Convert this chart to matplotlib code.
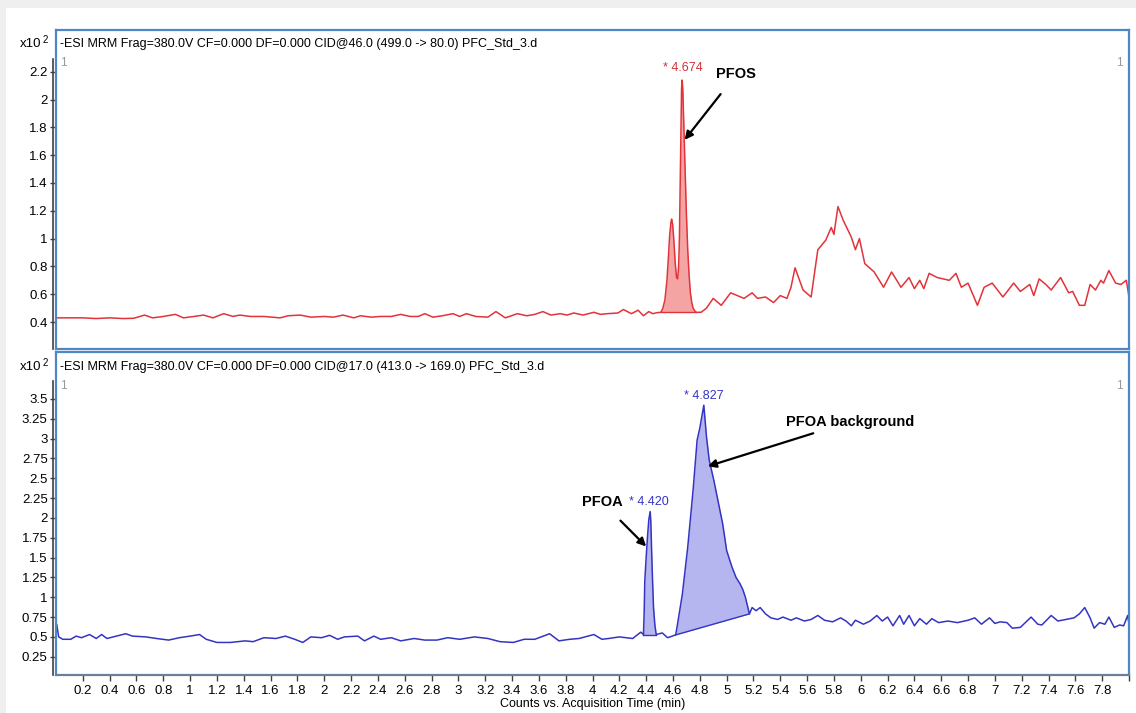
import numpy as np
import matplotlib.pyplot as plt
from matplotlib.patches import Rectangle

plt.rcParams['font.family'] = ['Liberation Sans', 'DejaVu Sans']

# PFOS trace (499.0 -> 80.0), counts x10^2
t_pfos = [0.00, 0.10, 0.20, 0.30, 0.40, 0.50, 0.58, 0.66, 0.72, 0.80, 0.89, 0.95, 1.03, 1.10,
          1.17, 1.25, 1.32, 1.37, 1.45, 1.55, 1.67, 1.73, 1.82, 1.90, 2.00, 2.07, 2.14, 2.22,
          2.27, 2.35, 2.42, 2.50, 2.57, 2.64, 2.70, 2.75, 2.81, 2.88, 2.96, 3.01, 3.06, 3.13,
          3.22, 3.28, 3.35, 3.44, 3.51, 3.57, 3.63, 3.69, 3.76, 3.81, 3.86, 3.93, 4.01, 4.06,
          4.11, 4.19, 4.23, 4.29, 4.34, 4.38, 4.42, 4.45, 4.48,
          4.51, 4.525, 4.54, 4.555, 4.565, 4.575, 4.585, 4.59, 4.598, 4.607, 4.617, 4.627, 4.635,
          4.642, 4.648, 4.654, 4.66, 4.664, 4.668, 4.673, 4.68, 4.687, 4.694, 4.70, 4.71, 4.72,
          4.73, 4.74, 4.75, 4.77,
          4.81, 4.85, 4.90, 4.96, 5.03, 5.08, 5.13, 5.19, 5.23, 5.29, 5.35, 5.40, 5.45, 5.48,
          5.51, 5.57, 5.63, 5.68, 5.74, 5.78, 5.80, 5.83, 5.87, 5.93, 5.96, 5.99, 6.03, 6.10,
          6.17, 6.23, 6.30, 6.36, 6.40, 6.44, 6.47, 6.51, 6.57, 6.66, 6.71, 6.75, 6.80, 6.87,
          6.92, 6.98, 7.06, 7.14, 7.19, 7.26, 7.29, 7.33, 7.38, 7.42, 7.49, 7.55, 7.58, 7.63,
          7.67, 7.71, 7.75, 7.79, 7.81, 7.85, 7.90, 7.94, 7.98, 8.00]
i_pfos = [0.43, 0.43, 0.43, 0.425, 0.43, 0.425, 0.427, 0.45, 0.43, 0.44, 0.455, 0.43, 0.44, 0.45,
          0.43, 0.46, 0.44, 0.45, 0.44, 0.44, 0.43, 0.445, 0.45, 0.435, 0.44, 0.435, 0.45, 0.43,
          0.445, 0.435, 0.44, 0.44, 0.455, 0.44, 0.44, 0.46, 0.435, 0.445, 0.46, 0.44, 0.46, 0.44,
          0.435, 0.475, 0.43, 0.46, 0.445, 0.455, 0.475, 0.45, 0.46, 0.45, 0.465, 0.45, 0.47, 0.455,
          0.46, 0.465, 0.49, 0.46, 0.485, 0.445, 0.475, 0.46, 0.467,
          0.47, 0.50, 0.56, 0.70, 0.85, 1.02, 1.12, 1.14, 1.10, 0.98, 0.82, 0.72, 0.71,
          0.80, 1.00, 1.40, 1.85, 2.08, 2.14, 2.08, 1.85, 1.60, 1.40, 1.18, 0.92, 0.74,
          0.61, 0.54, 0.50, 0.47,
          0.47, 0.50, 0.57, 0.52, 0.61, 0.59, 0.57, 0.61, 0.57, 0.58, 0.54, 0.59, 0.57, 0.65,
          0.79, 0.63, 0.58, 0.92, 0.99, 1.08, 1.03, 1.23, 1.13, 1.01, 0.92, 1.00, 0.82, 0.76,
          0.65, 0.76, 0.65, 0.72, 0.64, 0.70, 0.64, 0.75, 0.72, 0.70, 0.75, 0.65, 0.68, 0.52,
          0.65, 0.68, 0.58, 0.68, 0.62, 0.67, 0.59, 0.71, 0.67, 0.63, 0.72, 0.61, 0.62, 0.52,
          0.52, 0.67, 0.63, 0.70, 0.68, 0.77, 0.68, 0.67, 0.70, 0.58]

# PFOA trace (413.0 -> 169.0), counts x10^2
t_pfoa = [0.00, 0.005, 0.02, 0.05, 0.11, 0.15, 0.19, 0.25, 0.30, 0.34, 0.38, 0.45, 0.52, 0.57,
          0.67, 0.75, 0.84, 0.92, 1.00, 1.07, 1.12, 1.20, 1.30, 1.41, 1.47, 1.55, 1.64, 1.71,
          1.78, 1.84, 1.90, 1.98, 2.04, 2.10, 2.15, 2.25, 2.30, 2.37, 2.42, 2.50, 2.57, 2.67,
          2.75, 2.84, 2.92, 3.01, 3.12, 3.22, 3.31, 3.41, 3.49, 3.57, 3.68, 3.75, 3.83, 3.90,
          4.01, 4.07, 4.12, 4.20, 4.30, 4.36,
          4.38, 4.385, 4.39, 4.40, 4.41, 4.42, 4.43, 4.435, 4.44, 4.447, 4.455, 4.465, 4.475,
          4.52, 4.56, 4.62, 4.63, 4.67, 4.71, 4.75, 4.78, 4.80, 4.83, 4.85, 4.87, 4.905, 4.94,
          4.97, 4.98, 5.00, 5.04, 5.07, 5.10, 5.12, 5.14, 5.17, 5.19, 5.22, 5.25, 5.29, 5.33,
          5.38, 5.42, 5.48, 5.52, 5.58, 5.63, 5.68, 5.73, 5.79, 5.85, 5.89, 5.93, 5.96, 6.02,
          6.07, 6.12, 6.16, 6.20, 6.24, 6.29, 6.32, 6.36, 6.40, 6.44, 6.49, 6.53, 6.58, 6.65,
          6.72, 6.80, 6.85, 6.90, 6.96, 7.00, 7.04, 7.09, 7.13, 7.19, 7.27, 7.32, 7.35, 7.42,
          7.47, 7.53, 7.59, 7.63, 7.67, 7.71, 7.74, 7.78, 7.82, 7.85, 7.89, 7.93, 7.96, 7.99,
          8.00]
i_pfoa = [0.49, 0.66, 0.50, 0.47, 0.47, 0.51, 0.49, 0.53, 0.48, 0.53, 0.48, 0.51, 0.54, 0.51,
          0.50, 0.48, 0.46, 0.49, 0.51, 0.53, 0.47, 0.43, 0.43, 0.45, 0.44, 0.49, 0.48, 0.51,
          0.47, 0.43, 0.50, 0.49, 0.52, 0.47, 0.50, 0.51, 0.45, 0.51, 0.47, 0.49, 0.45, 0.48,
          0.46, 0.46, 0.49, 0.47, 0.50, 0.48, 0.44, 0.43, 0.47, 0.47, 0.54, 0.45, 0.47, 0.48,
          0.53, 0.47, 0.48, 0.50, 0.48, 0.56,
          0.53, 0.80, 1.21, 1.50, 1.76, 1.98, 2.08, 1.95, 1.63, 1.25, 0.87, 0.65, 0.53,
          0.55, 0.49, 0.525, 0.62, 1.04, 1.63, 2.35, 2.98, 3.13, 3.42, 3.02, 2.73, 2.47, 2.18,
          1.93, 1.82, 1.59, 1.38, 1.25, 1.17, 1.10, 1.00, 0.79, 0.87, 0.83, 0.87, 0.79, 0.74,
          0.72, 0.75, 0.71, 0.74, 0.70, 0.72, 0.77, 0.71, 0.69, 0.74, 0.70, 0.64, 0.71, 0.66,
          0.70, 0.77, 0.70, 0.75, 0.64, 0.77, 0.66, 0.77, 0.64, 0.73, 0.66, 0.73, 0.68, 0.70,
          0.68, 0.71, 0.74, 0.66, 0.74, 0.67, 0.69, 0.68, 0.61, 0.62, 0.75, 0.66, 0.65, 0.77,
          0.70, 0.72, 0.74, 0.79, 0.87, 0.74, 0.61, 0.68, 0.66, 0.75, 0.62, 0.65, 0.64, 0.77,
          0.66]

# integrated peaks: (start, end, baseline at start, baseline at end)
pfos_peaks = [(4.51, 4.77, 0.47, 0.47)]
pfoa_peaks = [(4.38, 4.475, 0.53, 0.53), (4.62, 5.17, 0.525, 0.79)]

# peak RT labels: (rt, apex)
pfos_rt = [(4.674, 2.14)]
pfoa_rt = [(4.420, 2.08), (4.827, 3.42)]

x_ticks = np.round(np.arange(0.2, 7.81, 0.2), 1)
top_ticks = np.round(np.arange(0.4, 2.21, 0.2), 1)
bot_ticks = np.arange(0.25, 3.51, 0.25)

FRAME = '#4f86c6'
DARK = '#404040'
W, H = 1136, 713
FS = 9.5

fig = plt.figure(figsize=(W / 100, H / 100), dpi=100)
fig.patch.set_facecolor('#efefef')
fig.patches.append(Rectangle((6 / W, 0), 1, 1 - 8 / H, transform=fig.transFigure,
                             facecolor='white', edgecolor='none', zorder=-10))


def make_axes(top_px, bot_px):
    ax = fig.add_axes([56 / W, 1 - bot_px / H, (1129 - 56) / W, (bot_px - top_px) / H])
    for s in ax.spines.values():
        s.set_color(FRAME)
        s.set_linewidth(1.6)
    ax.set_xlim(0, 8)
    ax.tick_params(axis='y', direction='out', length=4, width=1, color=DARK,
                   labelsize=FS, pad=2)
    return ax


def draw_trace(ax, t, y, peaks, rts, line_c, fill_c, txt_c):
    t = np.array(t)
    y = np.array(y)
    for t0, t1, b0, b1 in peaks:
        m = (t >= t0) & (t <= t1)
        base = b0 + (b1 - b0) * (t[m] - t0) / (t1 - t0)
        ax.fill_between(t[m], base, y[m], color=fill_c, lw=0)
        ax.plot([t0, t1], [b0, b1], color=line_c, lw=1)
    ax.plot(t, y, color=line_c, lw=1.1)
    for rt, apex in rts:
        ax.text(rt, apex + 0.04, f'* {rt:.3f}', color=txt_c, fontsize=9,
                ha='center', va='bottom')


def left_axis_line(ax, frac):
    ax.plot([-0.0025, -0.0025], [0, frac], transform=ax.transAxes, clip_on=False,
            color=DARK, lw=1.2)


# top panel: PFOS
ax1 = make_axes(30, 349)
ax1.set_ylim(0.206, 2.50)
ax1.set_yticks(top_ticks)
ax1.set_yticklabels([f'{v:g}' for v in top_ticks])
ax1.set_xticks([])
left_axis_line(ax1, 0.91)
draw_trace(ax1, t_pfos, i_pfos, pfos_peaks, pfos_rt, '#e2333b', '#f5a4a4', '#d0303a')
ax1.text(0.004, 0.955, '-ESI MRM Frag=380.0V CF=0.000 DF=0.000 CID@46.0 (499.0 -> 80.0) PFC_Std_3.d',
         transform=ax1.transAxes, fontsize=9, va='center', ha='left')
ax1.text(0.004, 0.895, '1', transform=ax1.transAxes, fontsize=8.5, color='#999999', va='center')
ax1.text(0.994, 0.895, '1', transform=ax1.transAxes, fontsize=8.5, color='#999999',
         va='center', ha='right')
ax1.annotate('PFOS', xy=(4.687, 1.71), xytext=(5.07, 2.18), fontsize=10.5, fontweight='bold',
             ha='center', va='center',
             arrowprops=dict(arrowstyle='-|>', color='black', lw=1.6, mutation_scale=12,
                             shrinkA=9, shrinkB=0))

# bottom panel: PFOA
ax2 = make_axes(352, 675)
ax2.set_ylim(0.02, 4.09)
ax2.set_yticks(bot_ticks)
ax2.set_yticklabels([f'{v:g}' for v in bot_ticks])
ax2.set_xticks(list(x_ticks) + [8.0])
ax2.set_xticklabels([f'{v:g}' for v in x_ticks] + [''])
ax2.tick_params(axis='x', direction='out', length=4, width=1, color=DARK, labelsize=FS, pad=3)
ax2.spines['bottom'].set_color('#6a7f99')
left_axis_line(ax2, 0.91)
draw_trace(ax2, t_pfoa, i_pfoa, pfoa_peaks, pfoa_rt, '#3434c4', '#b5b5ef', '#3434c4')
ax2.text(0.004, 0.955, '-ESI MRM Frag=380.0V CF=0.000 DF=0.000 CID@17.0 (413.0 -> 169.0) PFC_Std_3.d',
         transform=ax2.transAxes, fontsize=9, va='center', ha='left')
ax2.text(0.004, 0.895, '1', transform=ax2.transAxes, fontsize=8.5, color='#999999', va='center')
ax2.text(0.994, 0.895, '1', transform=ax2.transAxes, fontsize=8.5, color='#999999',
         va='center', ha='right')
ax2.annotate('PFOA background', xy=(4.86, 2.65), xytext=(5.44, 3.21), fontsize=10.5,
             fontweight='bold', ha='left', va='center',
             arrowprops=dict(arrowstyle='-|>', color='black', lw=1.6, mutation_scale=12,
                             shrinkA=4, shrinkB=0))
ax2.annotate('PFOA', xy=(4.40, 1.64), xytext=(4.07, 2.20), fontsize=10.5, fontweight='bold',
             ha='center', va='center',
             arrowprops=dict(arrowstyle='-|>', color='black', lw=1.6, mutation_scale=12,
                             shrinkA=9, shrinkB=0))
ax2.set_xlabel('Counts vs. Acquisition Time (min)', fontsize=9, labelpad=1)

# y multiplier labels
for y_px in (44, 367):
    fig.text(41 / W, 1 - y_px / H, 'x10', fontsize=FS, ha='right', va='center')
    fig.text(43 / W, 1 - (y_px - 4) / H, '2', fontsize=7, ha='left', va='center')

fig.savefig('out.png', dpi=100)
